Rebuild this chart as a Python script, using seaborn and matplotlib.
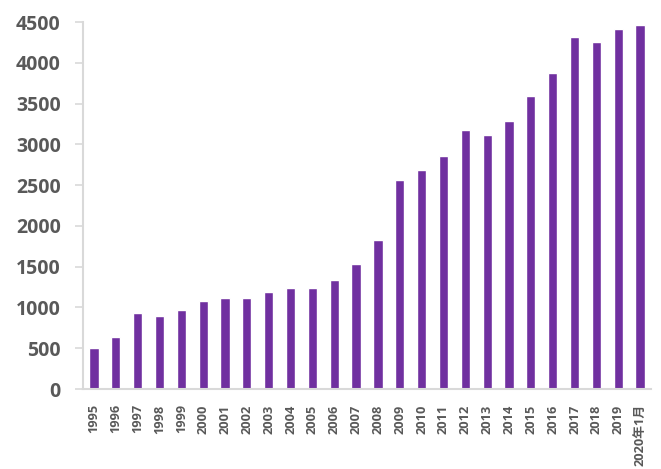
import matplotlib
matplotlib.use("Agg")
import matplotlib.pyplot as plt
import seaborn as sns
import pandas as pd

years = ["1995", "1996", "1997", "1998", "1999", "2000", "2001", "2002", "2003",
         "2004", "2005", "2006", "2007", "2008", "2009", "2010", "2011", "2012",
         "2013", "2014", "2015", "2016", "2017", "2018", "2019", "2020年1月"]
values = [500, 640, 930, 900, 970, 1080, 1110, 1120, 1190, 1240, 1240, 1340, 1530,
          1830, 2560, 2690, 2860, 3170, 3120, 3290, 3590, 3870, 4320, 4250, 4420, 4460]
yticks = [0, 500, 1000, 1500, 2000, 2500, 3000, 3500, 4000, 4500]

sns.set_theme(style="white")
plt.rcParams['font.family'] = ['Open Sans', 'Noto Sans CJK SC', 'DejaVu Sans']

df = pd.DataFrame({"year": years, "value": values})

fig = plt.figure(figsize=(6.61, 4.69), dpi=100)
ax = fig.add_axes([83 / 661, 80 / 469, 568 / 661, 367 / 469])
sns.barplot(data=df, x="year", y="value", color="#7030A0", saturation=1,
            width=0.42, ax=ax)

ax.set_ylim(0, 4500)
ax.set_xlim(-0.5, len(years) - 0.5)
ax.set_yticks(yticks)
ax.set_yticklabels([str(t) for t in yticks], fontsize=14, fontweight="bold",
                   color="#595959")
ax.set_xticks(range(len(years)))
ax.set_xticklabels(years, rotation=90, fontsize=9.2, fontweight="bold",
                   color="#595959", va="top", ha="center")
ax.set_xlabel("")
ax.set_ylabel("")

for s in ["top", "right"]:
    ax.spines[s].set_visible(False)
for s in ["left", "bottom"]:
    ax.spines[s].set_visible(True)
    ax.spines[s].set_color("#D9D9D9")
    ax.spines[s].set_linewidth(1.5)

ax.tick_params(axis="y", which="major", left=True, length=6, width=1.2,
               color="#D9D9D9", pad=10)
ax.tick_params(axis="x", which="major", bottom=False, pad=5)
ax.grid(False)

fig.savefig("out.png", dpi=100)
